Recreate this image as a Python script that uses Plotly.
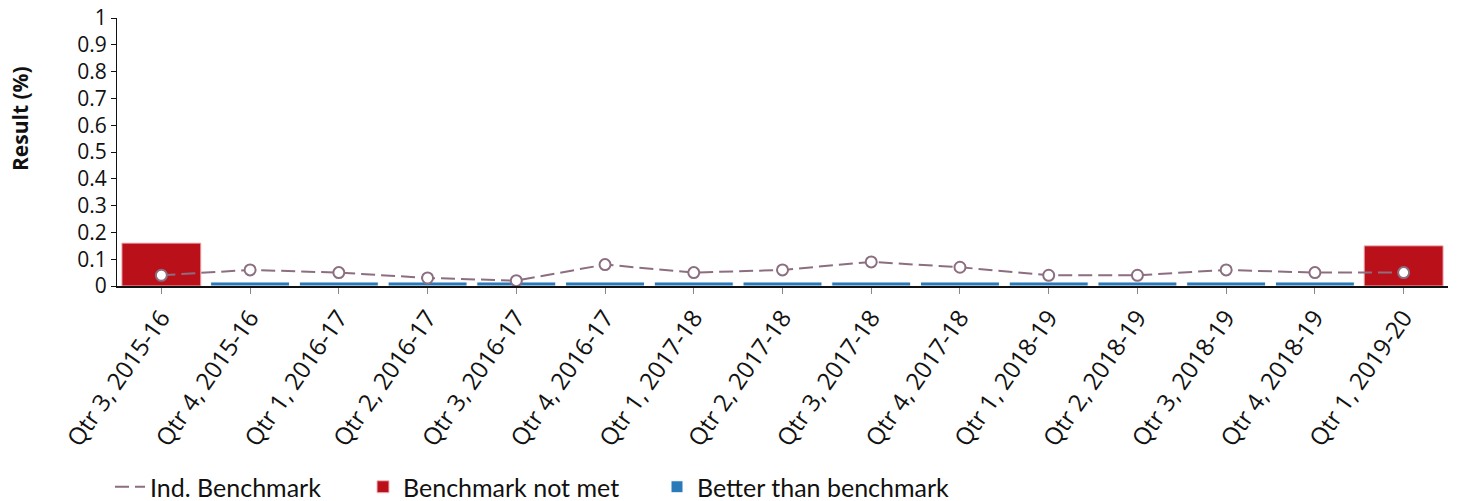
import plotly.graph_objects as go

categories = ["Qtr 3, 2015-16", "Qtr 4, 2015-16", "Qtr 1, 2016-17", "Qtr 2, 2016-17",
              "Qtr 3, 2016-17", "Qtr 4, 2016-17", "Qtr 1, 2017-18", "Qtr 2, 2017-18",
              "Qtr 3, 2017-18", "Qtr 4, 2017-18", "Qtr 1, 2018-19", "Qtr 2, 2018-19",
              "Qtr 3, 2018-19", "Qtr 4, 2018-19", "Qtr 1, 2019-20"]
not_met = [0.16, None, None, None, None, None, None, None, None, None, None, None, None, None, 0.15]
better = [None, 0.015, 0.015, 0.015, 0.015, 0.015, 0.015, 0.015, 0.015, 0.015, 0.015, 0.015, 0.015, 0.015, None]
benchmark = [0.04, 0.06, 0.05, 0.03, 0.02, 0.08, 0.05, 0.06, 0.09, 0.07, 0.04, 0.04, 0.06, 0.05, 0.05]
y_ticks = [0, 0.1, 0.2, 0.3, 0.4, 0.5, 0.6, 0.7, 0.8, 0.9, 1]

RED = "#BA1019"
BLUE = "#2A7AB9"
LINE = "#8C6E80"

OFF = 8  # page body margin
W, H = 1459 - OFF, 501 - OFF
ML, MR, MT, MB = 117 - OFF, 11, 18 - OFF, 215
PW, PH = W - ML - MR, H - MT - MB


def px_x(x):
    return (x - OFF - ML) / PW


def px_y(y):
    return (H - MB - (y - OFF)) / PH


fig = go.Figure()
fig.add_trace(go.Bar(
    x=categories, y=not_met, name="Benchmark not met", legend="legend2",
    marker=dict(color=RED, line=dict(color="#F2B8BC", width=1)),
))
fig.add_trace(go.Bar(
    x=categories, y=better, name="Better than benchmark", legend="legend3",
    marker=dict(color=BLUE, line=dict(color="#FFFFFF", width=1)),
))
fig.add_trace(go.Scatter(
    x=categories, y=benchmark, name="Ind. Benchmark", mode="lines+markers",
    showlegend=False, cliponaxis=False,
    line=dict(color=LINE, width=2, dash="14px,6px"),
    marker=dict(symbol="circle", size=11, color="white", line=dict(color=LINE, width=2)),
))
# legend entry for the benchmark line (line only, as in the reference)
fig.add_trace(go.Scatter(
    x=[None], y=[None], name="Ind. Benchmark", mode="lines", legend="legend",
    line=dict(color=LINE, width=2, dash="14px,6px"),
))

legend_font = dict(family="Lato, Open Sans, sans-serif", size=25, color="#111111")
common = dict(orientation="h", yanchor="middle", xanchor="left", font=legend_font,
              bgcolor="rgba(0,0,0,0)", itemwidth=30)

fig.update_layout(
    width=W, height=H,
    margin=dict(l=ML, r=MR, t=MT, b=MB, autoexpand=False),
    paper_bgcolor="white", plot_bgcolor="white",
    barmode="overlay", bargap=0.11,
    font=dict(family="Open Sans, sans-serif", size=20, color="#111111"),
    showlegend=True,
    legend=dict(x=px_x(110), y=px_y(487), **common),
    legend2=dict(x=px_x(363), y=px_y(487), **common),
    legend3=dict(x=px_x(657), y=px_y(487), **common),
    annotations=[dict(
        text="<b>Result (%)</b>", textangle=-90, xref="paper", yref="paper",
        x=px_x(20), y=px_y(119), xanchor="center", yanchor="middle", showarrow=False,
        font=dict(family="Open Sans, sans-serif", size=21, color="#111111"),
    )],
)
fig.update_xaxes(
    type="category", categoryorder="array", categoryarray=categories,
    range=[-0.5, len(categories) - 0.5],
    tickangle=-55, showline=True, linecolor="#111111", linewidth=2,
    ticks="outside", ticklen=6, tickcolor="#888888", showgrid=False,
    tickfont=dict(size=24), automargin=False,
)
fig.update_yaxes(
    range=[0, 1], tickvals=y_ticks, ticktext=[("%g" % v) for v in y_ticks],
    showline=True, linecolor="#111111", linewidth=1,
    ticks="outside", ticklen=5, tickcolor="#111111", showgrid=False, zeroline=False,
    tickfont=dict(size=21), automargin=False, ticklabeloverflow="allow",
)

fig.write_html("out.html")
